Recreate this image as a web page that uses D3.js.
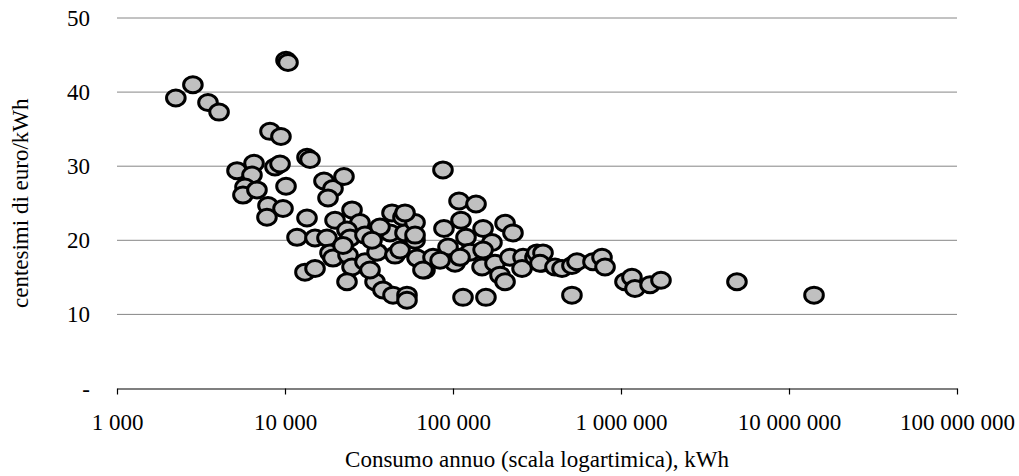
<!DOCTYPE html>
<html>
<head>
<meta charset="utf-8">
<script src="https://cdn.jsdelivr.net/npm/d3@7"></script>
<style>
  body { margin: 0; background: #fff; }
  text { font-family: "Liberation Serif", "Times New Roman", serif; fill: #000; }
  .grid line { stroke: #868686; stroke-width: 1; }
  .x.axis path, .x.axis line { stroke: #000; stroke-width: 1.2; }
</style>
</head>
<body>
<div class="chart"></div>
<script>
// consumo annuo (kWh) e prezzo (centesimi di euro/kWh)
var consumo = [2240, 2830, 3480, 4050, 10140, 10420,
  8140, 9460, 5180, 6540, 6360, 5780, 5620, 6810, 8720, 9340, 10140, 7920, 9730, 7810,
  13520, 14090, 17060, 19310, 22440, 18030, 11790, 13520, 15090, 17780, 13150, 15090,
  19850, 25060, 27930, 23390, 24380, 18530, 19310, 23710, 25060, 23390, 29930, 29930,
  35300, 34350, 38300, 43350, 42170, 50360, 51800, 45170, 43950, 53230, 53230, 59430,
  59430, 61090, 68120, 36760, 32950, 32060, 22150,
  87150, 108600, 137100, 111600, 88360, 119500, 151000, 170600, 204100, 227500, 93400,
  76030, 51800, 59430, 48400, 66250, 102800, 126200, 151000, 148900, 177800, 190500,
  204100, 218300, 261200, 257600, 307600, 338800, 114700, 157100, 83750, 110100,
  316200, 343400, 329300, 404700, 445600, 510500, 547000, 510500, 681000, 770900,
  803500, 1056000, 1162000, 1211000, 1489000, 1730000, 4900000, 14090000];

var prezzo = [39.2, 41.0, 38.6, 37.3, 44.3, 44.0,
  34.7, 34.0, 29.4, 30.4, 28.8, 27.2, 26.1, 26.8, 29.9, 30.3, 27.3, 24.7, 24.3, 23.1,
  31.2, 30.9, 28.0, 27.0, 28.6, 25.7, 20.4, 23.0, 20.3, 20.3, 15.7, 16.2,
  22.7, 24.1, 22.4, 21.4, 20.3, 18.3, 17.6, 18.0, 16.4, 14.4, 20.7, 17.1,
  18.4, 14.4, 13.3, 23.7, 21.0, 23.1, 21.0, 18.0, 12.6, 12.6, 11.9, 22.4,
  20.0, 17.6, 16.0, 21.8, 20.0, 16.0, 19.3,
  29.5, 25.3, 24.9, 22.7, 21.6, 20.4, 21.6, 19.7, 22.3, 21.0, 19.1,
  17.7, 23.7, 20.7, 18.7, 16.0, 16.9, 18.4, 18.7, 16.4, 16.9, 15.3,
  14.4, 17.7, 17.7, 16.2, 17.7, 16.9, 12.3, 12.3, 17.3, 17.7,
  18.3, 18.3, 16.9, 16.4, 16.2, 16.6, 17.1, 12.6, 17.1, 17.7,
  16.4, 14.4, 15.0, 13.5, 14.0, 14.6, 14.4, 12.6];

var xTicks = [1e3, 1e4, 1e5, 1e6, 1e7, 1e8],
    xTickLabels = ["1 000", "10 000", "100 000", "1 000 000", "10 000 000", "100 000 000"];
var yTicks = [0, 10, 20, 30, 40, 50],
    yTickLabels = ["-", "10", "20", "30", "40", "50"];

var width = 1019,
    height = 476,
    margin = {top: 18, right: 62, bottom: 87.5, left: 117},
    w = width - margin.left - margin.right,
    h = height - margin.top - margin.bottom;

var x = d3.scaleLog()
    .domain([1e3, 1e8])
    .range([0, w]);

var y = d3.scaleLinear()
    .domain([0, 50])
    .range([h, 0]);

var data = consumo.map(function(c, i) { return {x: c, y: prezzo[i]}; });

var svg = d3.select(".chart").append("svg")
    .attr("width", width)
    .attr("height", height)
  .append("g")
    .attr("transform", "translate(" + margin.left + "," + margin.top + ")");

// gridlines (not on zero, the x axis sits there)
svg.append("g")
    .attr("class", "grid")
  .selectAll("line")
    .data(yTicks.filter(function(d) { return d > 0; }))
  .enter().append("line")
    .attr("x1", 0)
    .attr("x2", w)
    .attr("y1", function(d) { return y(d); })
    .attr("y2", function(d) { return y(d); });

// y tick labels
svg.append("g")
  .selectAll("text")
    .data(yTicks)
  .enter().append("text")
    .attr("x", -27)
    .attr("y", function(d) { return y(d); })
    .attr("dy", "0.35em")
    .attr("text-anchor", "end")
    .style("font-size", "23px")
    .text(function(d, i) { return yTickLabels[i]; });

var xAxis = d3.axisBottom(x)
    .tickValues(xTicks)
    .tickSize(6)
    .tickSizeOuter(0)
    .tickFormat(function(d, i) { return xTickLabels[i]; });

var gx = svg.append("g")
    .attr("class", "x axis")
    .attr("transform", "translate(0," + h + ")")
    .call(xAxis);

gx.selectAll("text")
    .attr("y", 33)
    .attr("dy", "0.35em")
    .style("font-size", "23px")
    .style("font-family", "Liberation Serif");

svg.append("text")
    .attr("x", w / 2)
    .attr("y", h + 78)
    .attr("text-anchor", "middle")
    .style("font-size", "23px")
    .text("Consumo annuo (scala logartimica), kWh");

svg.append("text")
    .attr("transform", "translate(" + (-89) + "," + (h / 2) + ")rotate(-90)")
    .attr("text-anchor", "middle")
    .style("font-size", "23px")
    .text("centesimi di euro/kWh");

svg.append("g")
  .selectAll("ellipse")
    .data(data)
  .enter().append("ellipse")
    .attr("cx", function(d) { return x(d.x); })
    .attr("cy", function(d) { return y(d.y); })
    .attr("rx", 9.3)
    .attr("ry", 8)
    .style("fill", "#c0c0c0")
    .style("stroke", "#000")
    .style("stroke-width", 3);
</script>
</body>
</html>
